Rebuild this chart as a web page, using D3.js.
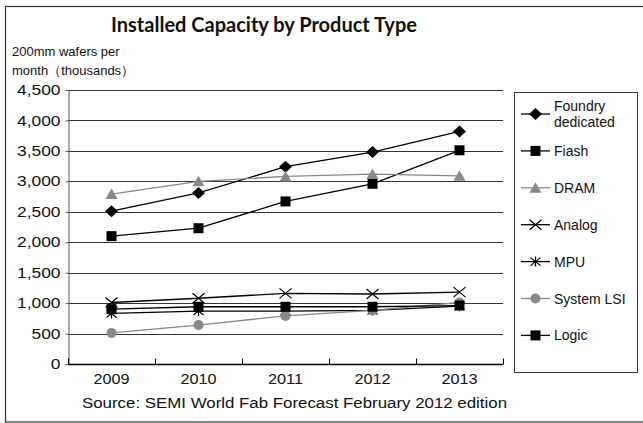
<!DOCTYPE html>
<html>
<head>
<meta charset="utf-8">
<script src="https://cdn.jsdelivr.net/npm/d3@7/dist/d3.min.js"></script>
<style>
  body { margin: 0; background: #fff; }
  svg { display: block; }
  text { font-family: "Liberation Sans", Arial, sans-serif; fill: #111; }
</style>
</head>
<body>
<svg id="chart" width="643" height="423"></svg>
<script>
// Installed capacity, 200mm-equivalent wafers per month (thousands)
const years = ["2009", "2010", "2011", "2012", "2013"];
const yTicks = [0, 500, 1000, 1500, 2000, 2500, 3000, 3500, 4000, 4500];

const foundry   = [2510, 2810, 3240, 3480, 3820];
const flash     = [2100, 2230, 2670, 2960, 3510];
const dram      = [2790, 3000, 3080, 3120, 3090];
const analog    = [1010, 1080, 1160, 1150, 1180];
const mpu       = [830, 870, 870, 880, 950];
const systemLsi = [510, 640, 790, 880, 1010];
const logic     = [900, 940, 940, 940, 960];

const seriesNames = ["Foundry dedicated", "Fiash", "DRAM", "Analog", "MPU", "System LSI", "Logic"];
const seriesValues = [foundry, flash, dram, analog, mpu, systemLsi, logic];
const seriesColors = ["#000", "#000", "#888", "#000", "#000", "#888", "#000"];
const seriesMarkers = ["diamond", "square", "triangle", "x", "asterisk", "circle", "square"];

const svg = d3.select("#chart");
const W = 643;
const plot = { left: 68, right: 503, top: 90, bottom: 364 };

// widen a text element horizontally by a factor
function widen(sel, factor) {
  sel.each(function () {
    const w = this.getComputedTextLength();
    d3.select(this).attr("textLength", w * factor).attr("lengthAdjust", "spacingAndGlyphs");
  });
}

// outer frame
svg.append("rect")
  .attr("x", 5.5).attr("y", 6.5).attr("width", W).attr("height", 415.5)
  .attr("fill", "none").attr("stroke", "#333").attr("stroke-width", 1.2);

svg.append("text")
  .attr("x", 264).attr("y", 32)
  .attr("text-anchor", "middle")
  .style("font-family", "Lato, 'Open Sans', sans-serif")
  .style("font-weight", "bold").style("font-size", "20px")
  .text("Installed Capacity by Product Type");

svg.append("text").attr("x", 12).attr("y", 56).style("font-size", "13px").text("200mm wafers per");
svg.append("text").attr("x", 12).attr("y", 75).style("font-size", "13px").text("month（thousands）");

const x = d3.scaleBand().domain(years).range([plot.left, plot.right]);
const y = d3.scaleLinear().domain([0, 4500]).range([plot.bottom, plot.top]);
const cx = d => x(d) + x.bandwidth() / 2;

// horizontal gridlines
svg.append("g").selectAll("line").data(yTicks.filter(d => d > 0)).join("line")
  .attr("x1", plot.left).attr("x2", plot.right)
  .attr("y1", d => Math.round(y(d)) + 0.5).attr("y2", d => Math.round(y(d)) + 0.5)
  .attr("stroke", "#333").attr("stroke-width", 1);

// y axis
const yAxis = svg.append("g").attr("transform", `translate(${plot.left + 0.5},0)`)
  .call(d3.axisLeft(y).tickValues(yTicks).tickFormat(d3.format(",")).tickSize(3).tickPadding(5));
yAxis.select(".domain").attr("stroke", "#555");
yAxis.selectAll(".tick line").attr("stroke", "#555");
const yLabels = yAxis.selectAll("text").style("font-size", "14.5px").attr("fill", "#111")
  .style("font-family", "'Liberation Sans', Arial, sans-serif");
widen(yLabels, 1.2);

// x axis with inward ticks at category boundaries
const xAxisG = svg.append("g").attr("transform", `translate(0,${plot.bottom + 0.5})`);
xAxisG.append("line").attr("x1", plot.left).attr("x2", plot.right)
  .attr("stroke", "#000").attr("stroke-width", 1.5);
const bounds = years.map(d => x(d)).concat([plot.right]);
xAxisG.selectAll("line.tk").data(bounds).join("line").attr("class", "tk")
  .attr("x1", d => Math.round(d) + 0.5).attr("x2", d => Math.round(d) + 0.5)
  .attr("y1", 0).attr("y2", -6).attr("stroke", "#000");
const xLabels = xAxisG.selectAll("text").data(years).join("text")
  .attr("x", d => cx(d)).attr("y", 19)
  .attr("text-anchor", "middle").style("font-size", "14.5px").text(d => d);
widen(xLabels, 1.12);

svg.append("text").attr("x", 294.5).attr("y", 408).attr("text-anchor", "middle")
  .style("font-size", "14px")
  .attr("textLength", 425).attr("lengthAdjust", "spacingAndGlyphs")
  .text("Source: SEMI World Fab Forecast February 2012 edition");

// marker drawing
function drawMarker(g, type, color) {
  switch (type) {
    case "diamond":
      g.append("path").attr("d", "M0,-6L6.5,0L0,6L-6.5,0Z").attr("fill", color);
      break;
    case "square":
      g.append("rect").attr("x", -5).attr("y", -5).attr("width", 10).attr("height", 10).attr("fill", color);
      break;
    case "triangle":
      g.append("path").attr("d", "M0,-5.5L6,5L-6,5Z").attr("fill", color);
      break;
    case "circle":
      g.append("circle").attr("r", 5).attr("fill", color);
      break;
    case "x":
      g.append("path").attr("d", "M-6,-5L6,5M-6,5L6,-5").attr("stroke", color).attr("stroke-width", 1.2);
      break;
    case "asterisk":
      g.append("path").attr("d", "M-5,-4L5,4M-5,4L5,-4M0,-5L0,5").attr("stroke", color).attr("stroke-width", 1.2);
      break;
  }
}

const line = d3.line().x((v, i) => cx(years[i])).y(v => y(v));

seriesValues.forEach((vals, s) => {
  const g = svg.append("g");
  g.append("path").attr("d", line(vals)).attr("fill", "none")
    .attr("stroke", seriesColors[s]).attr("stroke-width", 1.3);
  vals.forEach((v, i) => {
    const m = g.append("g").attr("transform", `translate(${cx(years[i])},${y(v)})`);
    drawMarker(m, seriesMarkers[s], seriesColors[s]);
  });
});

// legend
const legend = svg.append("g");
legend.append("rect").attr("x", 514.5).attr("y", 92.5).attr("width", 123).attr("height", 280)
  .attr("fill", "#fff").attr("stroke", "#333");
seriesNames.forEach((name, s) => {
  const ly = 114 + s * 36.9;
  const g = legend.append("g").attr("transform", `translate(0,${ly})`);
  g.append("line").attr("x1", 521).attr("x2", 550).attr("y1", 0).attr("y2", 0)
    .attr("stroke", seriesColors[s]).attr("stroke-width", 1.3);
  const m = g.append("g").attr("transform", "translate(535.5,0)");
  drawMarker(m, seriesMarkers[s], seriesColors[s]);
  if (name === "Foundry dedicated") {
    g.append("text").attr("x", 554).attr("y", -3).style("font-size", "14px").text("Foundry");
    g.append("text").attr("x", 554).attr("y", 13).style("font-size", "14px").text("dedicated");
  } else {
    g.append("text").attr("x", 554).attr("y", 5).style("font-size", "14px").text(name);
  }
});
</script>
</body>
</html>
